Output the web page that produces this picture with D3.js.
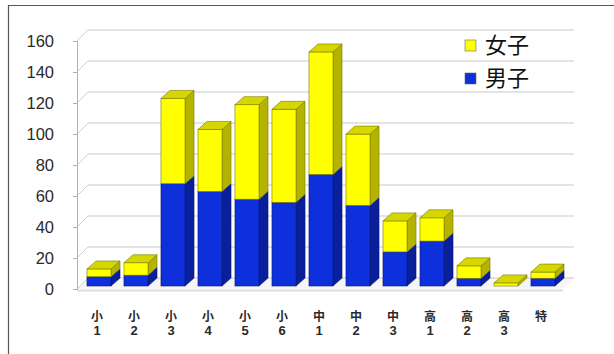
<!DOCTYPE html>
<html><head><meta charset="utf-8">
<script src="https://cdn.jsdelivr.net/npm/d3@7/dist/d3.min.js"></script>
<style>html,body{margin:0;padding:0;background:#fff;}svg{display:block;}</style>
</head><body><svg id="c" width="614" height="354"></svg>
<script>
const categories = ["小1","小2","小3","小4","小5","小6","中1","中2","中3","高1","高2","高3","特"];
const labelTop = ["小","小","小","小","小","小","中","中","中","高","高","高","特"];
const labelBottom = ["1","2","3","4","5","6","1","2","3","1","2","3",""];
const boys  = [6, 7, 66, 61, 56, 54, 72, 52, 22, 29, 5, 0, 5];
const girls = [5, 8, 55, 40, 61, 60, 79, 46, 20, 15, 8, 2, 4];
const yTicks = [0, 20, 40, 60, 80, 100, 120, 140, 160];
const seriesNames = ["女子", "男子"];

const svg = d3.select("#c");
const DX = 9, DY = -8;      // bar depth
const WX = 11, WY = -11;    // wall depth

const x = d3.scaleBand().domain(categories).range([80.5, 561.5]).paddingInner(0.35).paddingOuter(0.175);
const yLab = d3.scaleLinear().domain([0, 160]).range([289, 41]);
const yBar = d3.scaleLinear().domain([0, 160]).range([286, 38]);
const axisX = 77, wallRight = 574;

// frame
svg.append("line").attr("x1", 8.5).attr("y1", 5).attr("x2", 8.5).attr("y2", 354).attr("stroke", "#555").attr("stroke-width", 1.2);
svg.append("line").attr("x1", 8).attr("y1", 5.5).attr("x2", 614).attr("y2", 5.5).attr("stroke", "#555").attr("stroke-width", 1.2);

// floor
const f0 = yLab(0);
svg.append("path")
  .attr("d", `M${axisX},${f0} L${axisX+WX},${f0+WY} L${wallRight},${f0+WY} L${wallRight-WX},${f0} Z`)
  .attr("fill", "#f6f6f6").attr("stroke", "none");
svg.append("line").attr("x1", axisX).attr("x2", wallRight - WX).attr("y1", f0 + 1.5).attr("y2", f0 + 1.5)
  .attr("stroke", "#ddd").attr("stroke-width", 2);

// back-wall gridlines and side wall
yTicks.forEach(t => {
  const yy = yLab(t);
  svg.append("line").attr("x1", axisX + WX).attr("x2", wallRight).attr("y1", yy + WY).attr("y2", yy + WY)
    .attr("stroke", "#c9c9c9").attr("stroke-width", 1.2);
  svg.append("line").attr("x1", axisX).attr("x2", axisX + WX).attr("y1", yy).attr("y2", yy + WY)
    .attr("stroke", "#d0d0d0").attr("stroke-width", 1);
});

// y axis
const yAxis = d3.axisLeft(yLab).tickValues(yTicks).tickSize(4).tickPadding(19);
const gA = svg.append("g").attr("transform", `translate(${axisX},0)`).call(yAxis);
gA.select(".domain").attr("stroke", "#b0b0b0");
gA.selectAll(".tick line").attr("stroke", "#b0b0b0");
gA.selectAll(".tick text").attr("font-family", "Liberation Sans, Arial, sans-serif").attr("font-size", 16.5)
  .attr("fill", "#2a2a2a").attr("dy", "0.36em");

// bars
const colors = {
  boy:  {front: "#0d2fdc", side: "#0a1f9c", top: "#2a4ae8", stroke: "#0a1770"},
  girl: {front: "#ffff00", side: "#b4b400", top: "#d6d600", stroke: "#7a7a00"}
};
function box(g, x0, w, v0, v1, c, drawTop) {
  const yb = yBar(v0), yt = yBar(v1);
  if (yb - yt <= 0) return;
  g.append("path").attr("d", `M${x0+w},${yb} L${x0+w+DX},${yb+DY} L${x0+w+DX},${yt+DY} L${x0+w},${yt} Z`)
    .attr("fill", c.side).attr("stroke", c.stroke).attr("stroke-width", 0.6);
  g.append("rect").attr("x", x0).attr("y", yt).attr("width", w).attr("height", yb - yt)
    .attr("fill", c.front).attr("stroke", c.stroke).attr("stroke-width", 0.6);
  if (drawTop) {
    g.append("path").attr("d", `M${x0},${yt} L${x0+DX},${yt+DY} L${x0+w+DX},${yt+DY} L${x0+w},${yt} Z`)
      .attr("fill", c.top).attr("stroke", c.stroke).attr("stroke-width", 0.6);
  }
}
const gb = svg.append("g");
categories.forEach((cat, i) => {
  const x0 = x(cat), w = x.bandwidth();
  const g = gb.append("g");
  box(g, x0, w, 0, boys[i], colors.boy, girls[i] === 0);
  box(g, x0, w, boys[i], boys[i] + girls[i], colors.girl, true);
});

// x labels
const gl = svg.append("g").attr("font-family", "Noto Sans CJK JP, Liberation Sans, sans-serif")
  .attr("font-weight", "bold").attr("fill", "#2a2a2a").attr("text-anchor", "middle");
categories.forEach((cat, i) => {
  const cx = x(cat) + x.bandwidth() / 2 - 2;
  gl.append("text").attr("x", cx).attr("y", 321).attr("font-size", 12).text(labelTop[i]);
  gl.append("text").attr("x", cx).attr("y", 335).attr("font-size", 13)
    .attr("font-family", "Liberation Sans, Arial, sans-serif").text(labelBottom[i]);
});

// legend
const lg = svg.append("g");
[[seriesNames[0], colors.girl], [seriesNames[1], colors.boy]].forEach((d, i) => {
  const yy = 45 + i * 33;
  lg.append("rect").attr("x", 465).attr("y", yy - 5).attr("width", 11).attr("height", 11)
    .attr("fill", d[1].front).attr("stroke", "#666").attr("stroke-width", 0.6);
  lg.append("text").attr("x", 485).attr("y", yy + 8).attr("font-size", 22)
    .attr("font-family", "Noto Sans CJK JP, sans-serif").attr("fill", "#111").text(d[0]);
});
</script></body></html>
